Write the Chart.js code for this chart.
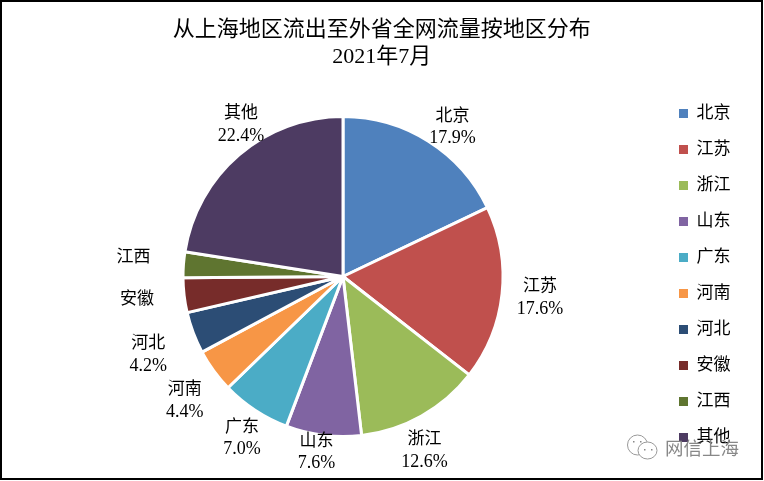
<!DOCTYPE html>
<html>
<head>
<meta charset="utf-8">
<title>从上海地区流出至外省全网流量按地区分布</title>
<script src="https://cdn.jsdelivr.net/npm/chart.js@4"></script>
<style>
    html, body { margin: 0; padding: 0; background: #fff; }
    #wrap { position: relative; width: 764px; height: 481px; }
</style>
</head>
<body>
<div id="wrap"><canvas id="regionPie" width="764" height="481"></canvas></div>
<script>
const regions = ['北京', '江苏', '浙江', '山东', '广东', '河南', '河北', '安徽', '江西', '其他'];
const shares = [17.9, 17.6, 12.6, 7.6, 7.0, 4.4, 4.2, 3.5, 2.6, 22.5];
const shownShares = ['17.9%', '17.6%', '12.6%', '7.6%', '7.0%', '4.4%', '4.2%', '', '', '22.4%'];
const sliceColors = ['#4F81BD', '#C0504D', '#9BBB59', '#8064A2', '#4BACC6', '#F79646', '#2C4D75', '#772C2A', '#5F7530', '#4D3B62'];
const titleLines = ['从上海地区流出至外省全网流量按地区分布', '2021年7月'];

const fontStack = '"Liberation Serif", "Noto Sans CJK SC", serif';

// Label offsets from the outer edge of each slice, by hand like Excel's dragged labels
const labelNudge = [[24, -14], [38, 4], [3, 35], [-7, 17], [-13, 28], [-29, 30], [-45, 22], [-47, 4], [-50, -7], [2, -30]];

const pieLabels = {
    id: 'pieLabels',
    afterDraw(chart) {
        const c = chart.ctx;
        c.save();
        c.fillStyle = '#000';
        c.textAlign = 'center';
        c.textBaseline = 'middle';
        chart.getDatasetMeta(0).data.forEach((arc, i) => {
            const mid = (arc.startAngle + arc.endAngle) / 2;
            const x = arc.x + Math.cos(mid) * arc.outerRadius + labelNudge[i][0];
            const y = arc.y + Math.sin(mid) * arc.outerRadius + labelNudge[i][1];
            c.font = '17px ' + fontStack;
            if (shownShares[i]) {
                c.fillText(regions[i], x, y - 11);
                c.font = '18px ' + fontStack;
                c.fillText(shownShares[i], x, y + 11);
            } else {
                c.fillText(regions[i], x, y);
            }
        });
        c.restore();
    }
};

// Outer frame and the account watermark
const frameAndMark = {
    id: 'frameAndMark',
    afterLayout(chart) {
        // title sits centred on the page, not on the padded box
        chart.titleBlock.left -= 1.5;
        chart.titleBlock.right -= 1.5;
        // legend is centred on the pie rather than on the whole page
        chart.legend.top += 48;
        chart.legend.bottom += 48;
    },
    afterDraw(chart) {
        const c = chart.ctx;
        c.save();
        c.strokeStyle = '#000';
        c.lineWidth = 2;
        c.strokeRect(1, 1, 761, 478);

        c.strokeStyle = '#999';
        c.lineWidth = 1;
        c.beginPath();
        c.ellipse(637.5, 445, 10, 10, 0, 0, Math.PI * 2);
        c.stroke();
        c.fillStyle = '#fff';
        c.beginPath();
        c.ellipse(647.5, 450.5, 9.5, 8.5, 0, 0, Math.PI * 2);
        c.fill();
        c.stroke();
        c.fillStyle = '#888';
        [[633, 441], [640, 441], [644, 449], [651, 449]].forEach(p => c.fillRect(p[0], p[1], 1.5, 1.5));
        c.font = '18.5px "Noto Sans CJK SC", sans-serif';
        c.textAlign = 'left';
        c.textBaseline = 'middle';
        c.fillText('网信上海', 665, 448);
        c.restore();
    }
};

const ctx = document.getElementById('regionPie').getContext('2d');
const regionChart = new Chart(ctx, {
    type: 'pie',
    data: {
        labels: regions,
        datasets: [{
            data: shares,
            backgroundColor: sliceColors,
            borderColor: '#fff',
            borderWidth: 3
        }]
    },
    plugins: [pieLabels, frameAndMark],
    options: {
        responsive: false,
        animation: false,
        layout: { padding: { left: 26, right: 23.5, top: 17, bottom: 43 } },
        plugins: {
            title: {
                display: true,
                text: titleLines,
                color: '#000',
                font: { family: fontStack, size: 22, weight: 'normal', lineHeight: 1.22 },
                padding: { top: 0, bottom: 44.3 }
            },
            legend: {
                position: 'right',
                labels: {
                    color: '#000',
                    boxWidth: 9,
                    boxHeight: 9,
                    padding: 19,
                    font: { family: fontStack, size: 17 },
                    generateLabels(chart) {
                        // plain squares, without the white slice border
                        return Chart.controllers.pie.overrides.plugins.legend.labels.generateLabels(chart)
                            .map(item => Object.assign(item, { lineWidth: 0 }));
                    }
                }
            },
            tooltip: { enabled: false }
        }
    }
});
</script>
</body>
</html>
